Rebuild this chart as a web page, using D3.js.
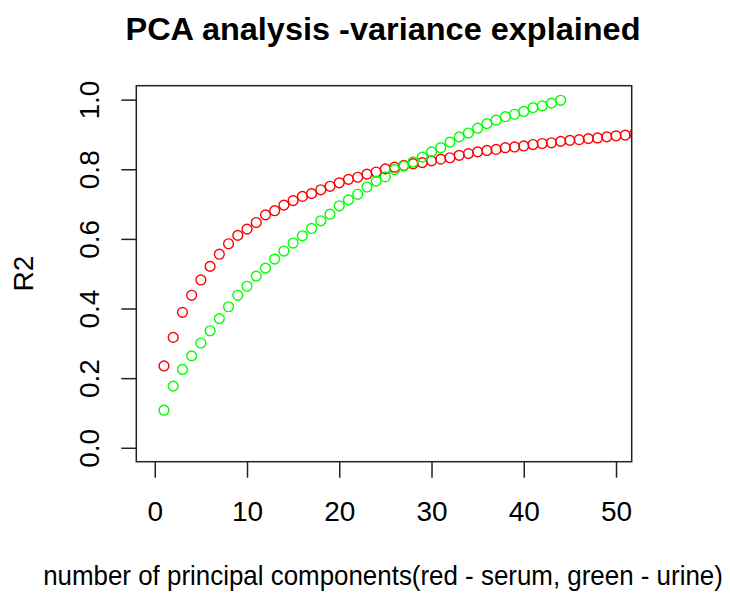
<!DOCTYPE html>
<html>
<head>
<meta charset="utf-8">
<script src="https://cdn.jsdelivr.net/npm/d3@7"></script>
<style>
  body { margin: 0; background: #fff; }
  text { font-family: "Liberation Sans", Arial, sans-serif; fill: #000; }
</style>
</head>
<body>
<div id="chart"></div>
<script>
// cumulative R2 per number of components
var serum = [0.235, 0.317, 0.389, 0.438, 0.482, 0.521, 0.556, 0.586, 0.610, 0.628,
  0.647, 0.669, 0.681, 0.697, 0.710, 0.722, 0.730, 0.741, 0.751, 0.761,
  0.771, 0.777, 0.786, 0.792, 0.801, 0.806, 0.811, 0.816, 0.819, 0.824,
  0.829, 0.833, 0.840, 0.845, 0.850, 0.854, 0.857, 0.862, 0.864, 0.867,
  0.871, 0.874, 0.876, 0.880, 0.883, 0.885, 0.888, 0.890, 0.893, 0.896,
  0.898, 0.901];
var urine = [0.108, 0.177, 0.225, 0.264, 0.301, 0.336, 0.371, 0.405, 0.438, 0.464,
  0.493, 0.516, 0.542, 0.565, 0.588, 0.609, 0.630, 0.652, 0.671, 0.695,
  0.712, 0.728, 0.749, 0.766, 0.778, 0.799, 0.809, 0.821, 0.835, 0.850,
  0.862, 0.878, 0.893, 0.904, 0.918, 0.931, 0.941, 0.951, 0.958, 0.966,
  0.977, 0.982, 0.990, 0.998];
var xTicks = [0, 10, 20, 30, 40, 50];
var yTicks = [0, 0.2, 0.4, 0.6, 0.8, 1.0];

var width = 730, height = 594;
var boxL = 136.3, boxR = 631.7, boxT = 85.7, boxB = 461.7;

var svg = d3.select("#chart").append("svg")
    .attr("width", width)
    .attr("height", height);

var x = d3.scaleLinear().domain([-2, 51.7]).range([boxL, boxR]);
var y = d3.scaleLinear().domain([-0.04, 1.04]).range([boxB, boxT]);

svg.append("clipPath").attr("id", "plotclip")
  .append("rect")
    .attr("x", boxL).attr("y", boxT)
    .attr("width", boxR - boxL).attr("height", boxB - boxT);

// points
var plot = svg.append("g").attr("clip-path", "url(#plotclip)");

function drawSeries(vals, col) {
  plot.append("g")
    .selectAll("circle")
    .data(vals)
    .enter()
    .append("circle")
      .attr("cx", (d, i) => x(i + 1))
      .attr("cy", d => y(d))
      .attr("r", 4.9)
      .style("fill", "none")
      .style("stroke", col)
      .style("stroke-width", 1.4);
}
drawSeries(serum, "#ff0000");
drawSeries(urine, "#00ff00");

// box
svg.append("rect")
    .attr("x", boxL).attr("y", boxT)
    .attr("width", boxR - boxL).attr("height", boxB - boxT)
    .style("fill", "none")
    .style("stroke", "#222")
    .style("stroke-width", 1.5);

// x axis
var gx = svg.append("g")
    .attr("transform", "translate(0," + boxB + ")")
    .call(d3.axisBottom(x).tickValues(xTicks).tickSize(16).tickPadding(23).tickFormat(d3.format("d")));
gx.select(".domain").remove();
gx.selectAll(".tick line").style("stroke", "#222").style("stroke-width", 1.5);
gx.selectAll(".tick text").style("font-size", "28px").attr("fill", "#000");

// y axis, labels turned like R does
var gy = svg.append("g")
    .attr("transform", "translate(" + boxL + ",0)")
    .call(d3.axisLeft(y).tickValues(yTicks).tickSize(15).tickFormat(d3.format(".1f")));
gy.select(".domain").remove();
gy.selectAll(".tick line").style("stroke", "#222").style("stroke-width", 1.5);
gy.selectAll(".tick text")
    .attr("transform", "rotate(-90)")
    .attr("x", 0)
    .attr("y", -37.5)
    .attr("dy", 0)
    .attr("text-anchor", "middle")
    .attr("fill", "#000")
    .style("font-size", "28px");

// titles
svg.append("text")
    .attr("x", 383).attr("y", 40)
    .attr("text-anchor", "middle")
    .attr("textLength", 515)
    .attr("lengthAdjust", "spacingAndGlyphs")
    .style("font-size", "31px")
    .style("font-weight", "bold")
    .text("PCA analysis -variance explained");

// x label is narrow in the original, squeeze it to the same width
var xlab = svg.append("text")
    .attr("text-anchor", "middle")
    .style("font-size", "28px")
    .text("number of principal components(red - serum, green - urine)");
var squeeze = 680 / xlab.node().getComputedTextLength();
xlab.attr("transform", "translate(383,585) scale(" + squeeze + ",1)");

svg.append("text")
    .attr("transform", "translate(33.3," + ((boxT + boxB) / 2) + ") rotate(-90)")
    .attr("text-anchor", "middle")
    .style("font-size", "28px")
    .text("R2");
</script>
</body>
</html>
